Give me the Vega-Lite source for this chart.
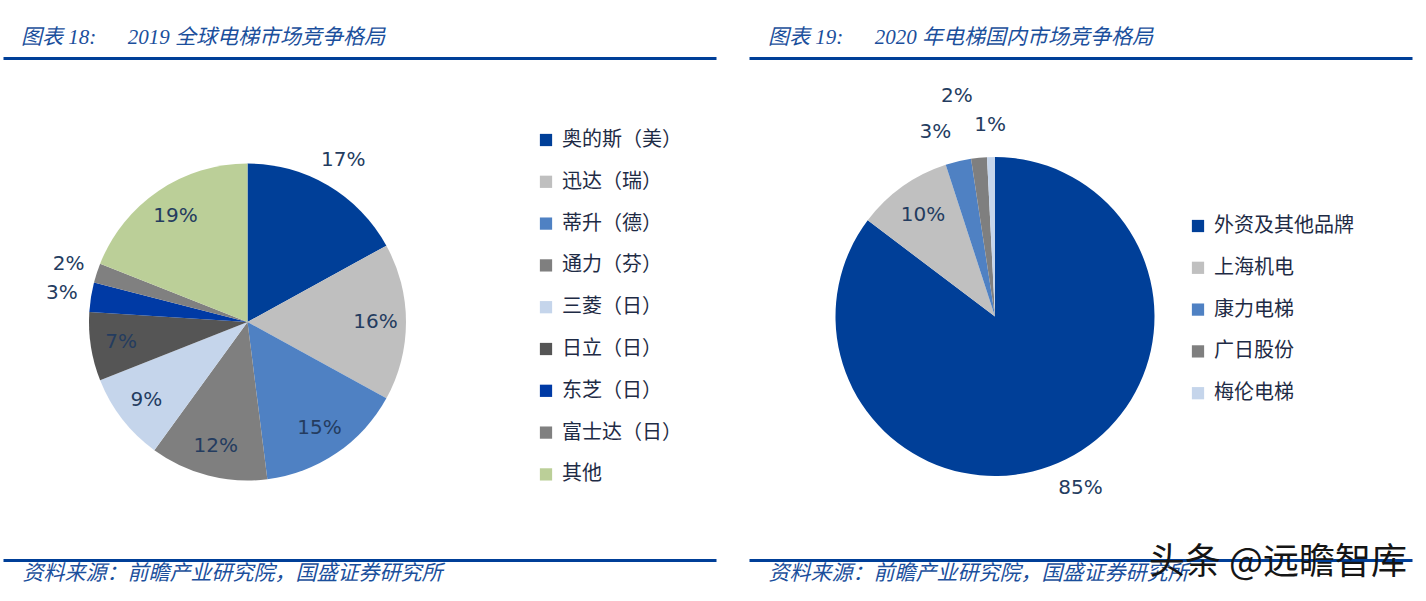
{
  "$schema": "https://vega.github.io/schema/vega-lite/v6.json",
  "background": "white",
  "padding": {"left": 3, "top": 27, "right": 5, "bottom": 5},
  "datasets": {
    "global": [
      {"idx": 1, "name": "奥的斯（美）", "value": 17, "label": "17%"},
      {"idx": 2, "name": "迅达（瑞）", "value": 16, "label": "16%"},
      {"idx": 3, "name": "蒂升（德）", "value": 15, "label": "15%"},
      {"idx": 4, "name": "通力（芬）", "value": 12, "label": "12%"},
      {"idx": 5, "name": "三菱（日）", "value": 9, "label": "9%"},
      {"idx": 6, "name": "日立（日）", "value": 7, "label": "7%"},
      {"idx": 7, "name": "东芝（日）", "value": 3, "label": "3%"},
      {"idx": 8, "name": "富士达（日）", "value": 2, "label": "2%"},
      {"idx": 9, "name": "其他", "value": 19, "label": "19%"}
    ],
    "domestic": [
      {"idx": 1, "name": "外资及其他品牌", "value": 85.3, "label": "85%"},
      {"idx": 2, "name": "上海机电", "value": 9.7, "label": "10%"},
      {"idx": 3, "name": "康力电梯", "value": 2.6, "label": "3%"},
      {"idx": 4, "name": "广日股份", "value": 1.6, "label": "2%"},
      {"idx": 5, "name": "梅伦电梯", "value": 0.8, "label": "1%"}
    ],
    "blank": [{"k": 0}]
  },
  "columns": 2,
  "spacing": {"row": 0, "column": 33},
  "bounds": "flush",
  "concat": [
    {
      "width": 713,
      "height": 27,
      "data": {"name": "blank"},
      "title": {
        "text": "图表 18:\u00a0\u00a0\u00a0\u00a0\u00a0 2019 全球电梯市场竞争格局",
        "anchor": "start", "frame": "group", "dx": 18, "offset": 10,
        "font": "Liberation Serif, Noto Sans CJK SC", "fontSize": 21,
        "fontStyle": "italic", "fontWeight": "normal", "color": "#1b4f9c"
      },
      "mark": {"type": "point", "opacity": 0},
      "encoding": {
        "x": {"field": "k", "type": "quantitative",
          "axis": {"orient": "top", "domainColor": "#003f98", "domainWidth": 3, "ticks": false, "labels": false, "grid": false, "title": null}}
      }
    },
    {
      "width": 663,
      "height": 27,
      "data": {"name": "blank"},
      "title": {
        "text": "图表 19:\u00a0\u00a0\u00a0\u00a0\u00a0 2020 年电梯国内市场竞争格局",
        "anchor": "start", "frame": "group", "dx": 19, "offset": 10,
        "font": "Liberation Serif, Noto Sans CJK SC", "fontSize": 21,
        "fontStyle": "italic", "fontWeight": "normal", "color": "#1b4f9c"
      },
      "mark": {"type": "point", "opacity": 0},
      "encoding": {
        "x": {"field": "k", "type": "quantitative",
          "axis": {"orient": "top", "domainColor": "#003f98", "domainWidth": 3, "ticks": false, "labels": false, "grid": false, "title": null}}
      }
    },
    {
      "width": 489,
      "height": 474,
      "data": {"name": "global"},
      "encoding": {
        "theta": {"field": "value", "type": "quantitative", "stack": true},
        "order": {"field": "idx", "type": "quantitative"}
      },
      "layer": [
        {
          "mark": {"type": "arc", "outerRadius": 158.5},
          "encoding": {
            "color": {
              "field": "name", "type": "nominal",
              "scale": {
                "domain": ["奥的斯（美）", "迅达（瑞）", "蒂升（德）", "通力（芬）", "三菱（日）", "日立（日）", "东芝（日）", "富士达（日）", "其他"],
                "range": ["#003f98", "#bfbfbf", "#4f81c3", "#7f7f7f", "#c5d5eb", "#555555", "#003aa5", "#808080", "#bbcf98"]
              },
              "legend": {
                "orient": "none", "legendX": 533, "legendY": 45, "title": null,
                "symbolType": "square", "symbolSize": 150, "symbolStrokeWidth": 0,
                "labelFont": "Noto Sans CJK SC", "labelFontSize": 20, "labelColor": "#1e2b45",
                "labelOffset": 6, "rowPadding": 21.8, "labelLimit": 300
              }
            }
          }
        },
        {
          "mark": {"type": "text", "radius": 128, "font": "DejaVu Sans", "fontSize": 20, "color": "#243c5f"},
          "encoding": {
            "text": {"condition": {"test": "indexof(['17%','3%','2%'], datum.label) < 0", "field": "label", "type": "nominal"}, "value": ""}
          }
        },
        {
          "mark": {"type": "text", "radius": 188, "font": "DejaVu Sans", "fontSize": 20, "color": "#243c5f"},
          "encoding": {
            "text": {"condition": {"test": "indexof(['17%','3%','2%'], datum.label) >= 0", "field": "label", "type": "nominal"}, "value": ""}
          }
        }
      ]
    },
    {
      "width": 492,
      "height": 463,
      "data": {"name": "domestic"},
      "encoding": {
        "theta": {"field": "value", "type": "quantitative", "stack": true},
        "order": {"field": "idx", "type": "quantitative"}
      },
      "layer": [
        {
          "mark": {"type": "arc", "outerRadius": 159.5},
          "encoding": {
            "color": {
              "field": "name", "type": "nominal",
              "scale": {
                "domain": ["外资及其他品牌", "上海机电", "康力电梯", "广日股份", "梅伦电梯"],
                "range": ["#003f98", "#c0c0c0", "#4f81c3", "#7f7f7f", "#c5d5eb"]
              },
              "legend": {
                "orient": "none", "legendX": 439, "legendY": 131, "title": null,
                "symbolType": "square", "symbolSize": 150, "symbolStrokeWidth": 0,
                "labelFont": "Noto Sans CJK SC", "labelFontSize": 20, "labelColor": "#1e2b45",
                "labelOffset": 6, "rowPadding": 21.8, "labelLimit": 300
              }
            }
          }
        },
        {
          "mark": {"type": "text", "radius": 124, "font": "DejaVu Sans", "fontSize": 20, "color": "#243c5f"},
          "encoding": {
            "text": {"condition": {"test": "datum.label === '10%'", "field": "label", "type": "nominal"}, "value": ""}
          }
        },
        {
          "mark": {"type": "text", "radius": 192, "font": "DejaVu Sans", "fontSize": 20, "color": "#243c5f"},
          "encoding": {
            "text": {"condition": {"test": "datum.label === '85%' || datum.label === '1%'", "field": "label", "type": "nominal"}, "value": ""}
          }
        },
        {
          "mark": {"type": "text", "radius": 190, "align": "right", "font": "DejaVu Sans", "fontSize": 20, "color": "#243c5f"},
          "encoding": {
            "text": {"condition": {"test": "datum.label === '3%'", "field": "label", "type": "nominal"}, "value": ""}
          }
        },
        {
          "mark": {"type": "text", "radius": 222, "align": "right", "font": "DejaVu Sans", "fontSize": 20, "color": "#243c5f"},
          "encoding": {
            "text": {"condition": {"test": "datum.label === '2%'", "field": "label", "type": "nominal"}, "value": ""}
          }
        }
      ]
    },
    {
      "width": 713,
      "height": 1,
      "data": {"name": "blank"},
      "mark": {"type": "point", "opacity": 0},
      "encoding": {
        "x": {"field": "k", "type": "quantitative",
          "axis": {"orient": "bottom", "domainColor": "#003f98", "domainWidth": 3, "ticks": false, "labels": false, "grid": false,
            "title": "资料来源：前瞻产业研究院，国盛证券研究所",
            "titleX": 19, "titleAnchor": "start", "titleAlign": "left", "titleBaseline": "top", "titlePadding": 2,
            "titleFont": "Noto Sans CJK SC", "titleFontSize": 21, "titleFontStyle": "italic", "titleFontWeight": "normal", "titleColor": "#1b4f9c"}}
      }
    },
    {
      "width": 663,
      "height": 1,
      "data": {"name": "blank"},
      "title": {
        "text": "头条 @远瞻智库",
        "orient": "bottom",
        "anchor": "end",
        "frame": "group",
        "offset": -37,
        "dx": -5,
        "font": "Noto Sans CJK SC",
        "fontSize": 36,
        "fontWeight": "normal",
        "color": "#151515"
      },
      "mark": {"type": "point", "opacity": 0},
      "encoding": {
        "x": {"field": "k", "type": "quantitative",
          "axis": {"orient": "bottom", "domainColor": "#003f98", "domainWidth": 3, "ticks": false, "labels": false, "grid": false,
            "title": "资料来源：前瞻产业研究院，国盛证券研究所",
            "titleX": 19, "titleAnchor": "start", "titleAlign": "left", "titleBaseline": "top", "titlePadding": 2,
            "titleFont": "Noto Sans CJK SC", "titleFontSize": 21, "titleFontStyle": "italic", "titleFontWeight": "normal", "titleColor": "#1b4f9c"}}
      }
    }
  ],
  "resolve": {
    "scale": {"color": "independent", "theta": "independent", "x": "independent", "y": "independent"},
    "legend": {"color": "independent"},
    "axis": {"x": "independent", "y": "independent"}
  },
  "config": {
    "view": {"stroke": null}
  }
}
